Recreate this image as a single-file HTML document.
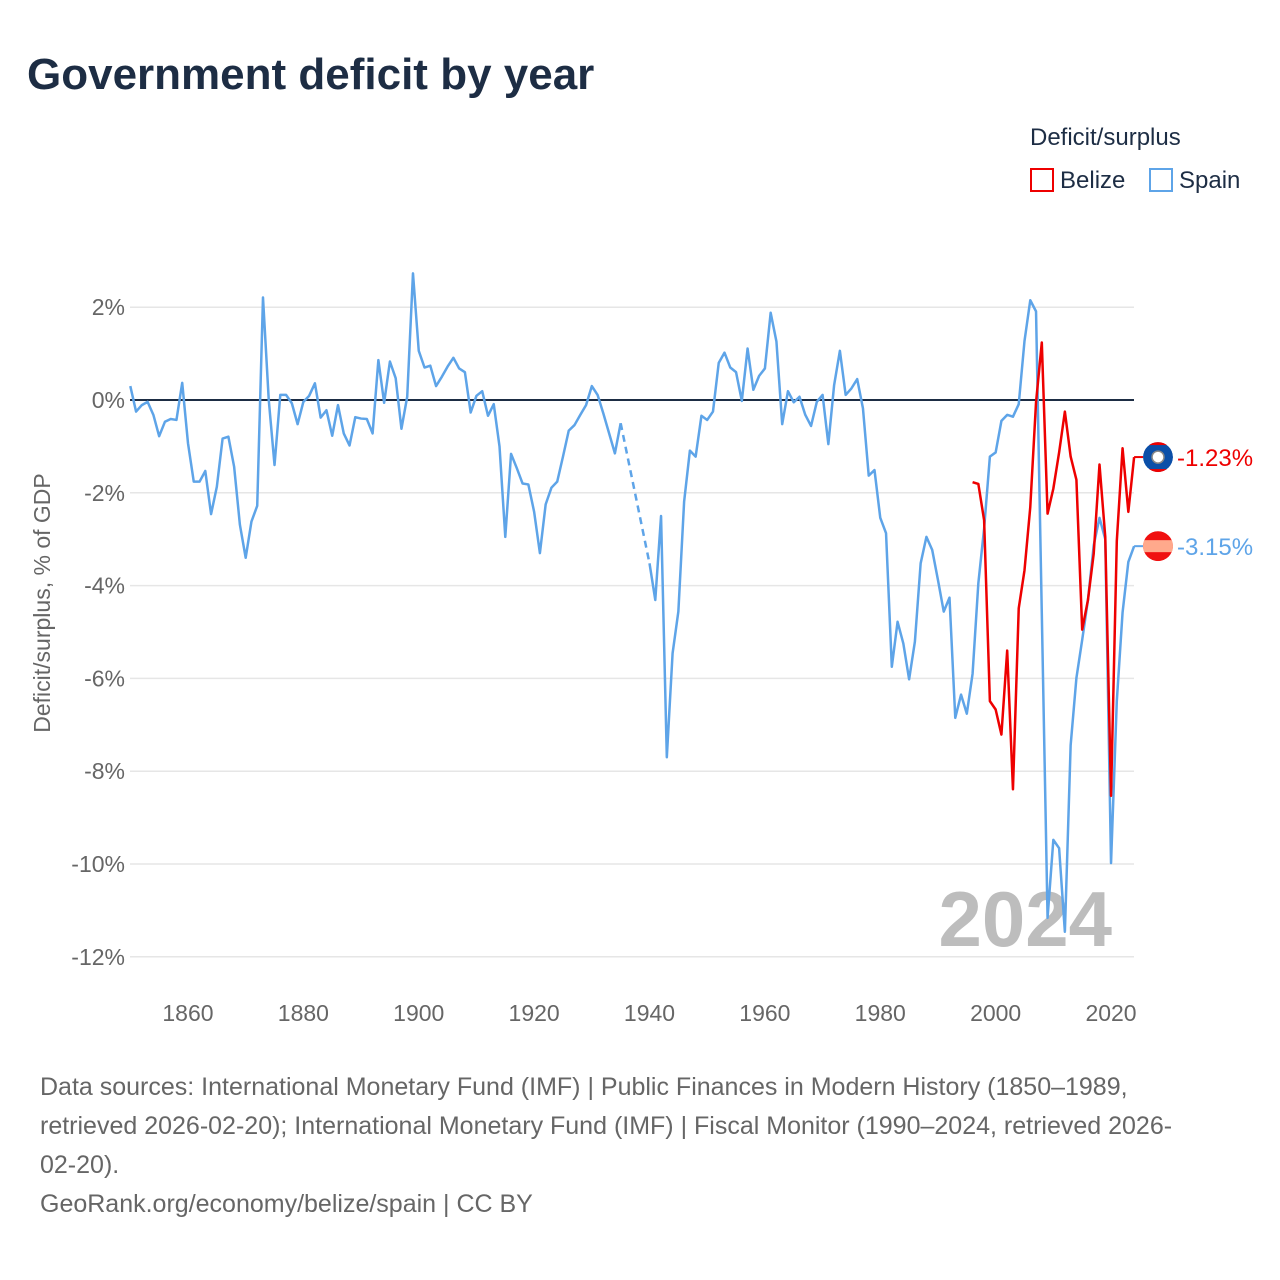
<!DOCTYPE html>
<html><head><meta charset="utf-8">
<style>
body{margin:0;background:#fff;}
#wrap{position:relative;width:1280px;height:1280px;overflow:hidden;font-family:"Liberation Sans",sans-serif;}
.t{position:absolute;white-space:nowrap;}
</style></head>
<body>
<div id="wrap">
<div class="t" style="left:27px;top:50px;font-size:44px;font-weight:bold;color:#1d2d44;">Government deficit by year</div>
<div class="t" style="left:1030px;top:124px;font-size:24px;color:#1d2d44;">Deficit/surplus</div>
<div class="t" style="left:1030px;top:167px;font-size:24px;color:#1d2d44;"><span style="display:inline-block;width:20px;height:20px;border:2px solid #e00;vertical-align:-4px;margin-right:6px;"></span>Belize</div>
<div class="t" style="left:1149px;top:167px;font-size:24px;color:#1d2d44;"><span style="display:inline-block;width:20px;height:20px;border:2px solid #5ea4e8;vertical-align:-4px;margin-right:6px;"></span>Spain</div>
<svg id="chart" width="1280" height="1280" style="position:absolute;left:0;top:0;"></svg>
<div class="t" style="left:40px;top:1068px;font-size:25px;line-height:39px;color:#666;">Data sources: International Monetary Fund (IMF) | Public Finances in Modern History (1850–1989,<br>retrieved 2026-02-20); International Monetary Fund (IMF) | Fiscal Monitor (1990–2024, retrieved 2026-<br>02-20).<br>GeoRank.org/economy/belize/spain | CC BY</div>
</div>
<script>
const spainStart = 1850;
const spainValues = [0.30,-0.25,-0.11,-0.04,-0.32,-0.78,-0.47,-0.41,-0.43,0.37,
-0.93,-1.76,-1.76,-1.53,-2.46,-1.87,-0.83,-0.79,-1.44,-2.69,
-3.40,-2.62,-2.28,2.21,0,-1.40,0.11,0.11,-0.07,-0.52,
-0.04,0.09,0.36,-0.38,-0.22,-0.77,-0.11,-0.72,-0.98,-0.37,
-0.40,-0.41,-0.72,0.86,-0.06,0.83,0.47,-0.62,0.07,2.73,
1.06,0.70,0.74,0.30,0.50,0.72,0.91,0.68,0.60,-0.27,
0.09,0.19,-0.34,-0.09,-1.00,-2.95,-1.16,-1.47,-1.80,-1.82,
-2.41,-3.30,-2.25,-1.89,-1.76,-1.22,-0.66,-0.54,-0.32,-0.11,
0.30,0.11,-0.29,-0.72,-1.15,-0.50,null,null,null,null,
-3.52,-4.31,-2.50,-7.70,-5.46,-4.56,-2.19,-1.09,-1.22,-0.34,
-0.43,-0.25,0.80,1.02,0.70,0.60,-0.02,1.11,0.22,0.52,
0.68,1.88,1.26,-0.52,0.19,-0.05,0.07,-0.32,-0.56,-0.04,
0.11,-0.95,0.32,1.06,0.11,0.25,0.45,-0.18,-1.63,-1.51,
-2.54,-2.87,-5.75,-4.78,-5.25,-6.02,-5.21,-3.52,-2.95,-3.23,
-3.88,-4.56,-4.26,-6.85,-6.35,-6.76,-5.90,-3.95,-2.77,-1.22,
-1.13,-0.45,-0.32,-0.36,-0.09,1.27,2.15,1.91,-4.60,-11.16,
-9.48,-9.66,-11.46,-7.44,-5.99,-5.17,-4.31,-3.13,-2.54,-3.00,
-9.98,-6.49,-4.58,-3.49,-3.15];
const belizeStart = 1996;
const belizeValues = [-1.77,-1.81,-2.59,-6.49,-6.67,-7.21,-5.40,-8.39,-4.49,-3.67,
-2.31,-0.05,1.24,-2.45,-1.91,-1.13,-0.25,-1.22,-1.72,-4.95,
-4.31,-3.31,-1.39,-2.95,-8.53,-3.04,-1.04,-2.41,-1.23];
const yTicks = [2,0,-2,-4,-6,-8,-10,-12];
const xTicks = [1860,1880,1900,1920,1940,1960,1980,2000,2020];

const svg = document.getElementById('chart');
const NS = 'http://www.w3.org/2000/svg';
function X(yr){return 130.3 + (yr-1850)*5.769;}
function Y(v){return 400 - v*46.4;}
function mk(tag, attrs, parent){const e=document.createElementNS(NS,tag);for(const k in attrs)e.setAttribute(k,attrs[k]);(parent||svg).appendChild(e);return e;}

yTicks.forEach(v=>{
  const g = mk('line',{x1:130,x2:1134,y1:Y(v),y2:Y(v),stroke:v===0?'#1d2d44':'#e6e6e6','stroke-width':v===0?2:1.5});
  
  
  const t = mk('text',{x:125,y:Y(v)+8,'text-anchor':'end','font-size':23,fill:'#666','font-family':'Liberation Sans, sans-serif'});
  t.textContent = v+'%';
  
  
});
xTicks.forEach(yr=>{
  const t = mk('text',{x:X(yr),y:1021,'text-anchor':'middle','font-size':23,fill:'#666','font-family':'Liberation Sans, sans-serif'});
  t.textContent = yr;
  
  
});
const yl = mk('text',{x:0,y:0,transform:'translate(50,603) rotate(-90)','text-anchor':'middle','font-size':23,fill:'#666','font-family':'Liberation Sans, sans-serif'});
yl.textContent = 'Deficit/surplus, % of GDP';



const wm = mk('text',{x:1112,y:946,'text-anchor':'end','font-size':78,'font-weight':'bold',fill:'#bdbdbd','font-family':'Liberation Sans, sans-serif'});
wm.textContent = '2024';



function drawSeries(start, vals, color, name){
  let run=[], last=null;
  const flush=()=>{ if(run.length>1){const p=mk('polyline',{points:run.join(' '),fill:'none',stroke:color,'stroke-width':2.5,'stroke-linejoin':'round'});
    
    } run=[]; };
  vals.forEach((v,i)=>{
    const yr=start+i;
    if(v===null){ flush(); return; }
    if(last && last.yr!==yr-1){
      const d=mk('line',{x1:X(last.yr),y1:Y(last.v),x2:X(yr),y2:Y(v),stroke:color,'stroke-width':2.5,'stroke-dasharray':'7,5'});
      
      
    }
    run.push(X(yr)+','+Y(v)); last={yr,v};
  });
  flush();
  return last;
}
const sl = drawSeries(spainStart, spainValues, '#5ea4e8', 'spain');
const bl = drawSeries(belizeStart, belizeValues, '#ee0000', 'belize');

const defs = mk('defs',{});
function endMarker(last, color, name, flag){
  const l = mk('line',{x1:X(last.yr),x2:1143,y1:Y(last.v),y2:Y(last.v),stroke:color,'stroke-width':2});
  
  
  const cx=1158, cy=Y(last.v);
  const cp = mk('clipPath',{id:'clip-'+name}, defs);
  mk('circle',{cx,cy,r:15}, cp);
  const g = mk('g',{'clip-path':'url(#clip-'+name+')'});
  
  
  if(flag==='bz'){
    mk('circle',{cx,cy,r:15,fill:'#0b4fa8'}, g);
    mk('rect',{x:cx-15,y:cy-15,width:30,height:3,fill:'#e00'}, g);
    mk('rect',{x:cx-15,y:cy+12,width:30,height:3,fill:'#e00'}, g);
    mk('circle',{cx,cy,r:6,fill:'#fff',stroke:'#888','stroke-width':1.5}, g);
  } else {
    mk('circle',{cx,cy,r:15,fill:'#f01010'}, g);
    mk('rect',{x:cx-15,y:cy-6,width:30,height:12,fill:'#ffa98c'}, g);
  }
  const t=mk('text',{x:1177,y:cy+9,'font-size':24,fill:color,'font-family':'Liberation Sans, sans-serif'});
  t.textContent = last.v.toFixed(2)+'%';
  
  
}
endMarker(bl,'#ee0000','belize','bz');
endMarker(sl,'#5ea4e8','spain','es');
</script>
</body></html>
